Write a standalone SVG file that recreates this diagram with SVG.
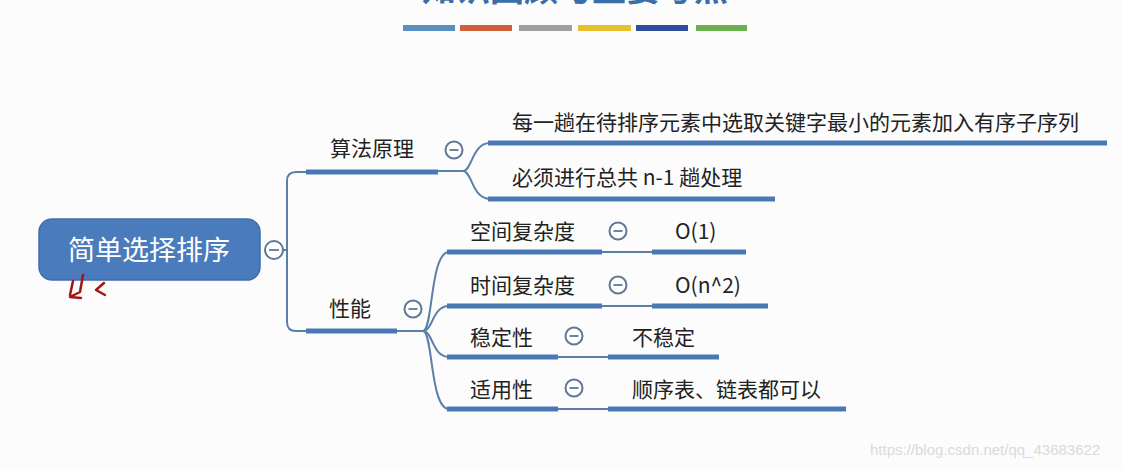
<svg xmlns="http://www.w3.org/2000/svg" width="1122" height="470" viewBox="0 0 1122 470">
<style>
.bar{stroke:#4a78b5;stroke-width:5;fill:none}
.thin{stroke:#5b7fa8;stroke-width:2;fill:none}
.tog{fill:#ffffff;stroke:#5f7796;stroke-width:2}
.minus{stroke:#5f7796;stroke-width:1.8}
.t{font-family:"Noto Sans CJK SC","Noto Sans",sans-serif;font-size:21px;fill:#222222}
.root{font-family:"Noto Sans CJK SC","Noto Sans",sans-serif;font-size:27px;fill:#ffffff;text-anchor:middle}
</style>
<rect width="1122" height="470" fill="#fcfcfc"/>
<g id="title">
<text x="575" y="1" text-anchor="middle" style="font-family:'Noto Sans CJK SC',sans-serif;font-size:34px;font-weight:bold;fill:#3a6ea8">知识回顾与重要考点</text>
<rect x="403" y="25" width="52" height="6" fill="#5b8fc0"/>
<rect x="460" y="25" width="52" height="6" fill="#d0603a"/>
<rect x="519" y="25" width="53" height="6" fill="#a0a0a0"/>
<rect x="578" y="25" width="53" height="6" fill="#e8c02a"/>
<rect x="636" y="25" width="52" height="6" fill="#2f4f9a"/>
<rect x="696" y="25" width="51" height="6" fill="#6ab04c"/>
</g>
<g id="connectors">
<path class="thin" d="M283,250 L287,250"/>
<path class="thin" d="M306,172 L296,172 Q287,172 287,181 L287,322 Q287,331 296,331 L306,331"/>
<path class="thin" d="M438,171 L463,171"/>
<path class="thin" d="M463,171 C472,171 472,143 490,143"/>
<path class="thin" d="M463,171 C472,171 472,199 490,199"/>
<path class="thin" d="M397,331 L423,331"/>
<path class="thin" d="M423,331 C433,331 430,252 449,252"/>
<path class="thin" d="M423,331 C433,331 432,306 449,306"/>
<path class="thin" d="M423,331 C433,331 432,357 449,357"/>
<path class="thin" d="M423,331 C433,331 430,409 449,409"/>
<path class="thin" d="M602,252 L652,252"/>
<path class="thin" d="M602,306 L652,306"/>
<path class="thin" d="M558,357 L608,357"/>
<path class="thin" d="M558,409 L608,409"/>
</g>
<g id="root">
<rect x="39" y="219" width="221" height="61" rx="13" fill="#4a7bbd" stroke="#3f6ea8" stroke-width="1.5"/>
<text class="root" x="149" y="260">简单选择排序</text>
<circle class="tog" cx="274" cy="250" r="9"/>
<line class="minus" x1="269" y1="250" x2="279" y2="250"/>
<path d="M83,275 L80,292 L70,297 L81,298 M73,281 L70,295 M104,283 L96,290 L105,295" fill="none" stroke="#a31515" stroke-width="2.5" stroke-linecap="round" stroke-linejoin="round"/>
</g>
<g id="n-suanfa">
<text class="t" x="330" y="156">算法原理</text>
<line class="bar" x1="306" y1="172" x2="438" y2="172"/>
<circle class="tog" cx="454" cy="150" r="8.5"/>
<line class="minus" x1="449.5" y1="150" x2="458.5" y2="150"/>
</g>
<g id="n-yuanli1">
<text class="t" x="512" y="130">每一趟在待排序元素中选取关键字最小的元素加入有序子序列</text>
<line class="bar" x1="488" y1="143" x2="1107" y2="143"/>
</g>
<g id="n-yuanli2">
<text class="t" x="512" y="185">必须进行总共 n-1 趟处理</text>
<line class="bar" x1="488" y1="199" x2="775" y2="199"/>
</g>
<g id="n-xingneng">
<text class="t" x="329" y="316">性能</text>
<line class="bar" x1="306" y1="331" x2="397" y2="331"/>
<circle class="tog" cx="413" cy="309" r="8.5"/>
<line class="minus" x1="408.5" y1="309" x2="417.5" y2="309"/>
</g>
<g id="n-kongjian">
<text class="t" x="470" y="239">空间复杂度</text>
<line class="bar" x1="447" y1="252" x2="602" y2="252"/>
<circle class="tog" cx="618" cy="231" r="8.5"/>
<line class="minus" x1="613.5" y1="231" x2="622.5" y2="231"/>
</g>
<g id="n-o1">
<text class="t" x="675" y="239">O(1)</text>
<line class="bar" x1="652" y1="252" x2="746" y2="252"/>
</g>
<g id="n-shijian">
<text class="t" x="470" y="293">时间复杂度</text>
<line class="bar" x1="447" y1="306" x2="602" y2="306"/>
<circle class="tog" cx="618" cy="285" r="8.5"/>
<line class="minus" x1="613.5" y1="285" x2="622.5" y2="285"/>
</g>
<g id="n-on2">
<text class="t" x="675" y="293">O(n^2)</text>
<line class="bar" x1="652" y1="306" x2="768" y2="306"/>
</g>
<g id="n-wending">
<text class="t" x="470" y="345">稳定性</text>
<line class="bar" x1="447" y1="357" x2="558" y2="357"/>
<circle class="tog" cx="574" cy="336" r="8.5"/>
<line class="minus" x1="569.5" y1="336" x2="578.5" y2="336"/>
</g>
<g id="n-buwending">
<text class="t" x="632" y="345">不稳定</text>
<line class="bar" x1="608" y1="357" x2="719" y2="357"/>
</g>
<g id="n-shiyong">
<text class="t" x="470" y="397">适用性</text>
<line class="bar" x1="447" y1="409" x2="558" y2="409"/>
<circle class="tog" cx="574" cy="388" r="8.5"/>
<line class="minus" x1="569.5" y1="388" x2="578.5" y2="388"/>
</g>
<g id="n-shunxu">
<text class="t" x="632" y="397">顺序表、链表都可以</text>
<line class="bar" x1="608" y1="409" x2="846" y2="409"/>
</g>
<text x="870" y="455" style="font-family:'Liberation Sans',sans-serif;font-size:15px;fill:#dadada">https://blog.csdn.net/qq_43683622</text>
</svg>
